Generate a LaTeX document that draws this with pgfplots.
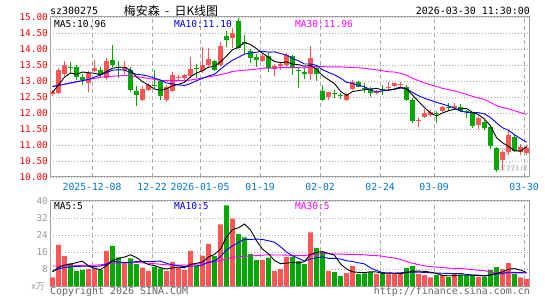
\documentclass[border=0pt]{standalone}
\usepackage{pgfplots}
\usepackage{pgfplotstable}
\pgfplotsset{compat=1.18}
\usepackage{fontspec}
\newfontfamily\mono{DejaVu Sans Mono}
\newfontfamily\cjk{Noto Sans CJK SC}
\definecolor{upred}{RGB}{255,85,85}
\definecolor{dngreen}{RGB}{0,168,0}
\definecolor{mablue}{RGB}{0,0,255}
\definecolor{mamag}{RGB}{255,0,255}
\definecolor{framegray}{RGB}{160,160,160}
\definecolor{gridgray}{RGB}{170,170,170}
\definecolor{dateblue}{RGB}{0,120,200}
\definecolor{lblgray}{RGB}{150,150,150}
\definecolor{copygray}{RGB}{100,100,100}
\definecolor{wmgray}{RGB}{212,198,198}
\definecolor{wmpink}{RGB}{245,200,200}

\pgfplotstableread{
i O H L C V
0 12.58 12.72 12.52 12.66 4.0
1 12.62 13.42 12.58 13.35 19.4
2 13.22 13.62 13.15 13.51 14.1
6 12.94 13.30 12.66 13.25 7.9
7 13.30 13.67 13.27 13.41 8.7
9 13.09 13.72 13.04 13.61 16.5
12 13.33 13.64 13.22 13.44 11.4
15 12.42 12.83 12.39 12.76 8.6
16 12.72 12.95 12.68 12.88 7.0
19 12.42 12.86 12.34 12.80 7.0
20 12.68 13.28 12.66 13.18 11.3
21 13.10 13.20 13.04 13.12 8.7
22 13.09 13.22 13.04 13.18 7.5
23 13.17 13.74 13.09 13.39 16.5
25 13.32 14.05 13.25 13.51 14.3
26 13.51 14.03 13.46 13.70 19.8
28 13.51 14.22 13.46 14.08 29.0
30 14.34 14.66 14.03 14.50 31.7
35 13.62 13.83 13.60 13.79 12.2
37 13.37 13.52 13.17 13.48 7.0
38 13.48 13.60 13.34 13.53 7.9
39 13.50 13.86 13.45 13.81 13.7
43 13.21 14.10 13.03 13.71 25.2
46 12.51 12.67 12.41 12.65 7.0
49 12.41 12.64 12.38 12.56 6.0
50 12.74 13.03 12.72 12.98 9.4
54 12.61 12.72 12.59 12.67 5.7
56 12.79 12.98 12.72 12.81 5.7
57 12.84 12.95 12.80 12.93 5.7
58 12.89 12.98 12.82 12.91 5.7
61 11.75 11.89 11.57 11.78 5.7
62 11.89 12.11 11.83 11.99 5.1
63 11.94 12.09 11.88 12.04 4.1
65 12.07 12.23 12.04 12.20 5.2
67 12.15 12.30 12.09 12.22 6.0
71 11.62 11.92 11.50 11.85 4.3
75 10.53 10.81 10.22 10.77 7.9
76 10.77 11.47 10.69 11.31 10.8
78 10.79 11.02 10.69 10.95 4.1
79 10.76 11.00 10.70 10.92 3.3
}\up

\pgfplotstableread{
i O H L C V
3 13.43 13.59 13.22 13.41 10.6
4 13.44 13.49 13.04 13.12 7.0
5 13.14 13.22 12.88 13.03 7.5
8 13.35 13.43 13.11 13.20 7.5
10 13.67 14.11 13.43 13.51 18.9
11 13.42 13.61 13.09 13.40 13.5
13 13.33 13.43 12.66 12.73 13.0
14 12.70 12.83 12.21 12.55 10.3
17 12.87 13.35 12.78 12.85 9.0
18 12.99 13.02 12.42 12.52 8.3
24 13.40 13.53 13.09 13.38 9.7
27 13.61 13.67 13.30 13.33 14.1
29 14.40 14.55 14.05 14.29 37.9
31 14.88 14.96 14.00 14.03 24.4
32 14.22 14.45 13.85 14.15 22.9
33 13.94 13.99 13.55 13.72 15.1
34 13.74 13.83 13.45 13.66 12.2
36 13.78 13.86 13.29 13.40 13.3
40 13.78 13.81 13.19 13.42 13.7
41 13.33 13.40 12.77 13.31 11.7
42 13.29 13.40 13.06 13.21 10.3
44 13.42 13.50 13.00 13.21 17.9
45 12.69 12.88 12.38 12.41 16.0
47 12.62 12.72 12.46 12.60 6.5
48 12.57 12.64 12.43 12.54 4.6
51 12.98 13.01 12.80 12.82 5.6
52 12.78 12.93 12.61 12.76 5.9
53 12.74 12.80 12.51 12.64 6.5
55 12.73 12.88 12.56 12.71 6.2
59 12.82 12.86 12.38 12.41 8.4
60 12.41 12.46 11.70 11.76 9.4
64 12.00 12.06 11.68 11.97 5.1
66 12.20 12.32 12.06 12.17 4.3
68 12.20 12.27 12.04 12.07 5.2
69 12.05 12.09 11.85 12.03 4.9
70 11.99 12.02 11.54 11.60 4.9
72 11.73 11.78 11.47 11.52 4.3
73 11.57 11.60 10.88 10.98 7.5
74 10.90 10.95 10.17 10.22 8.9
77 11.26 11.33 10.77 10.81 5.7
}\down

\pgfplotstableread{
i m5 m10 m30 vm5 vm10 vm30
0 12.64 12.83 12.83 6.7 7.0 9.4
1 12.88 12.86 12.86 8.7 8.0 9.4
2 13.12 12.90 12.90 9.8 8.7 9.5
3 13.25 12.94 12.93 10.3 9.0 9.5
4 13.21 12.98 12.97 11.0 9.2 9.6
5 13.28 13.01 13.01 11.7 9.3 9.6
6 13.26 13.05 13.05 9.4 9.3 9.7
7 13.24 13.12 13.08 8.3 9.2 9.8
8 13.20 13.19 13.12 7.7 9.4 10.0
9 13.30 13.26 13.14 9.6 10.3 10.4
10 13.40 13.34 13.15 11.9 11.8 10.8
11 13.43 13.35 13.16 13.0 11.2 10.9
12 13.43 13.34 13.17 13.6 11.0 11.0
13 13.34 13.27 13.16 14.7 11.2 11.0
14 13.13 13.21 13.14 13.4 11.5 11.0
15 12.98 13.19 13.11 11.4 11.6 10.9
16 12.87 13.15 13.08 10.1 11.5 10.7
17 12.75 13.09 13.05 9.6 11.6 10.5
18 12.71 13.03 13.02 8.6 11.7 10.2
19 12.76 12.94 13.01 8.0 10.7 10.0
20 12.85 12.91 13.01 8.5 9.9 9.8
21 12.89 12.88 13.01 8.9 9.5 9.8
22 12.96 12.86 13.01 8.6 9.1 9.8
23 13.13 12.92 13.03 10.2 9.4 10.0
24 13.25 13.01 13.06 10.7 9.4 10.3
25 13.32 13.08 13.10 11.3 9.9 10.6
26 13.43 13.16 13.13 13.6 11.2 11.0
27 13.46 13.21 13.16 14.9 11.7 11.4
28 13.60 13.37 13.20 17.4 13.8 12.0
29 13.78 13.52 13.24 23.0 16.9 12.6
30 13.98 13.65 13.30 26.5 18.9 13.6
31 14.05 13.74 13.32 27.4 20.5 13.7
32 14.21 13.84 13.34 29.2 22.0 14.0
33 14.14 13.87 13.35 26.4 21.9 14.2
34 14.01 13.90 13.37 21.3 22.1 14.3
35 13.87 13.93 13.40 17.4 21.9 14.5
36 13.74 13.90 13.40 15.1 21.3 14.7
37 13.61 13.91 13.40 12.0 20.6 14.6
38 13.57 13.86 13.42 10.5 18.5 14.6
39 13.60 13.81 13.42 10.8 16.0 14.5
40 13.53 13.70 13.42 11.1 14.2 14.4
41 13.51 13.63 13.42 10.8 13.0 14.3
42 13.46 13.53 13.41 11.5 11.7 14.3
43 13.49 13.53 13.44 14.9 12.7 14.7
44 13.37 13.49 13.46 15.8 13.3 14.9
45 13.17 13.35 13.45 16.2 13.7 15.2
46 13.04 13.27 13.44 15.3 13.0 15.2
47 12.92 13.19 13.44 14.5 13.0 15.1
48 12.68 13.09 13.44 10.4 12.7 15.0
49 12.55 12.96 13.43 8.0 11.9 14.9
50 12.67 12.92 13.42 6.7 11.5 14.9
51 12.70 12.87 13.41 6.4 10.9 14.8
52 12.73 12.82 13.40 6.3 10.4 14.7
53 12.75 12.72 13.37 6.7 8.5 14.4
54 12.77 12.66 13.35 6.6 7.3 14.3
55 12.72 12.69 13.32 6.0 6.3 14.0
56 12.72 12.71 13.29 6.0 6.2 13.5
57 12.75 12.74 13.28 6.0 6.1 13.2
58 12.81 12.78 13.24 5.8 6.2 12.5
59 12.75 12.76 13.18 6.3 6.5 11.5
60 12.56 12.64 13.09 7.0 6.5 10.7
61 12.36 12.54 13.01 7.0 6.5 10.1
62 12.17 12.46 12.94 6.9 6.4 9.5
63 12.00 12.40 12.88 6.5 6.2 9.1
64 11.91 12.33 12.83 5.9 6.1 8.9
65 12.00 12.28 12.77 5.0 6.0 8.7
66 12.07 12.22 12.73 4.8 5.9 8.4
67 12.12 12.15 12.69 4.9 5.9 8.3
68 12.13 12.06 12.64 5.2 5.9 8.3
69 12.14 12.02 12.58 5.1 5.5 8.0
70 12.02 12.01 12.52 5.1 5.1 7.7
71 11.95 12.01 12.47 5.1 4.9 7.4
72 11.81 11.97 12.42 4.7 4.8 7.2
73 11.60 11.86 12.33 5.2 5.2 6.6
74 11.23 11.69 12.23 6.0 5.6 6.3
75 11.07 11.54 12.17 6.6 5.8 6.1
76 10.96 11.46 12.13 7.9 6.5 6.2
77 10.82 11.32 12.07 8.2 6.4 6.2
78 10.81 11.20 12.01 7.5 6.3 6.1
79 10.95 11.09 11.96 6.4 6.2 6.1
}\ma

\pgfplotsset{
  kframe/.style={
    scale only axis, width=479bp,
    xmin=-0.4167, xmax=79.4167,
    xtick={6.6,16.6,24.6,34.6,44.6,54.6,63.6,78.6},
    major tick length=0pt,
    xmajorgrids, ymajorgrids,
    x grid style={draw=gridgray, line width=0.9bp, dash pattern=on 4bp off 3bp},
    y grid style={draw=gridgray, line width=0.9bp, dash pattern=on 1bp off 2bp},
    axis line style={draw=framegray, line width=1bp},
    /pgf/number format/assume math mode=true,
    clip=false,
  },
  wick/.style={draw=none, mark=none, forget plot,
    error bars/.cd, y dir=plus, y explicit, error mark=none,
    error bar style={solid, line width=1bp, draw=#1}},
  body/.style={draw=none, mark=none, forget plot,
    error bars/.cd, y dir=plus, y explicit, error mark=none,
    error bar style={solid, line width=4.6bp, draw=#1}},
}

\begin{document}
\begin{tikzpicture}
\path[use as bounding box] (0,0) rectangle (545bp,300bp);
% watermark (behind the plots)
\draw[wmpink, line width=1.5bp] (503bp,148bp) ellipse (5bp and 3.5bp);
\fill[wmpink] (503bp,148bp) circle (1.6bp);
\node[font=\bfseries\itshape\fontsize{14}{14}\selectfont, text=wmgray, inner sep=0] at (513bp,133bp) {sina};

% main candlestick axis
\begin{axis}[kframe, at={(50bp,123bp)}, anchor=south west, height=160bp,
  ymin=10, ymax=15,
  ytick={10,10.5,11,11.5,12,12.5,13,13.5,14,14.5,15},
  yticklabels={10.00,10.50,11.00,11.50,12.00,12.50,13.00,13.50,14.00,14.50,15.00},
  xticklabels={2025-12-08,12-22,2026-01-05,01-19,02-02,02-24,03-09,03-30},
  xticklabel style={font=\mono\fontsize{9.8}{10}\selectfont, text=dateblue, anchor=center, yshift=-9.5bp},
  yticklabel style={font=\mono\fontsize{9.4}{10}\selectfont, text=red, inner sep=2bp},
]
\addplot[wick=upred] table[x=i, y=L, y error expr=\thisrow{H}-\thisrow{L}]{\up};
\addplot[body=upred] table[x=i, y=O, y error expr={max(\thisrow{C}-\thisrow{O},0.03)}]{\up};
\addplot[wick=dngreen] table[x=i, y=L, y error expr=\thisrow{H}-\thisrow{L}]{\down};
\addplot[body=dngreen] table[x=i, y=C, y error expr={max(\thisrow{O}-\thisrow{C},0.03)}]{\down};
\addplot[mamag, line width=0.9bp, no markers] table[x=i, y=m30]{\ma};
\addplot[mablue, line width=0.9bp, no markers] table[x=i, y=m10]{\ma};
\addplot[black, line width=0.9bp, no markers] table[x=i, y=m5]{\ma};
\end{axis}

% volume axis
\begin{axis}[kframe, at={(50bp,14bp)}, anchor=south west, height=85bp,
  ymin=0, ymax=40,
  ytick={8,16,24,32,40},
  yticklabels={8,16,24,32,40},
  xticklabels={},
  yticklabel style={font=\mono\fontsize{9.4}{10}\selectfont, text=lblgray, inner sep=2bp},
]
\addplot[ybar, bar width=4.6bp, bar shift=0pt, fill=upred, draw=none, forget plot] table[x=i, y=V]{\up};
\addplot[ybar, bar width=4.6bp, bar shift=0pt, fill=dngreen, draw=none, forget plot] table[x=i, y=V]{\down};
\addplot[mamag, line width=0.9bp, no markers] table[x=i, y=vm30]{\ma};
\addplot[mablue, line width=0.9bp, no markers] table[x=i, y=vm10]{\ma};
\addplot[black, line width=0.9bp, no markers] table[x=i, y=vm5]{\ma};
\end{axis}

% texts
\begin{scope}[every node/.style={inner sep=0, font=\mono\fontsize{10}{12}\selectfont}]
\node[anchor=west] at (50bp,289bp) {sz300275};
\node[font=\cjk\fontsize{12}{13}\selectfont] at (171bp,289bp) {梅安森\ \ -\ \ 日K线图};
\node[anchor=east] at (530bp,289bp) {2026-03-30 11:30:00};
\node[anchor=west, font=\mono\fontsize{9.6}{12}\selectfont] at (54bp,276bp) {MA5:10.96};
\node[anchor=west, font=\mono\fontsize{9.6}{12}\selectfont, text=mablue] at (174bp,276bp) {MA10:11.10};
\node[anchor=west, font=\mono\fontsize{9.6}{12}\selectfont, text=mamag] at (295bp,276bp) {MA30:11.96};
\node[anchor=west, font=\mono\fontsize{9.6}{12}\selectfont] at (54bp,93.5bp) {MA5:5};
\node[anchor=west, font=\mono\fontsize{9.6}{12}\selectfont, text=mablue] at (174bp,93.5bp) {MA10:5};
\node[anchor=west, font=\mono\fontsize{9.6}{12}\selectfont, text=mamag] at (295bp,93.5bp) {MA30:5};
\node[anchor=east, font=\cjk\fontsize{9}{10}\selectfont, text=lblgray] at (45bp,14bp) {x万};
\node[anchor=west, text=copygray] at (50bp,8bp) {Copyright 2026 SINA.COM};
\node[anchor=east, text=copygray] at (530bp,8bp) {http://finance.sina.com.cn};
\end{scope}
\end{tikzpicture}
\end{document}
